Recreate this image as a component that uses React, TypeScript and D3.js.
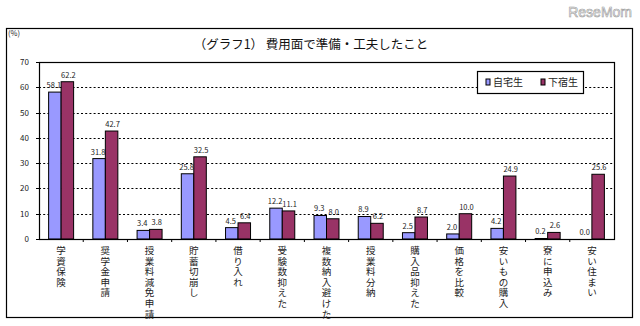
import React from "react";
import * as d3 from "d3";

const categories = [
  "学資保険",
  "奨学金申請",
  "授業料減免申請",
  "貯蓄切崩し",
  "借り入れ",
  "受験数抑えた",
  "複数納入避けた",
  "授業料分納",
  "購入品抑えた",
  "価格を比較",
  "安いもの購入",
  "寮に申込み",
  "安い住まい",
];
const seriesNames = ["自宅生", "下宿生"];
const jitaku = [58.1, 31.8, 3.4, 25.8, 4.5, 12.2, 9.3, 8.9, 2.5, 2.0, 4.2, 0.2, 0.0];
const geshuku = [62.2, 42.7, 3.8, 32.5, 6.4, 11.1, 8.0, 6.2, 8.7, 10.0, 24.9, 2.6, 25.6];
const yTicks = [0, 10, 20, 30, 40, 50, 60, 70];
const colors = ["#9999FF", "#993366"];
const title = "（グラフ1） 費用面で準備・工夫したこと";

const FONT = "'Noto Sans CJK JP', 'Noto Sans', sans-serif";

export default function App() {
  const W = 640, H = 326;
  const left = 39, right = 614, top = 62, bottom = 239;
  const x = d3.scaleBand<string>().domain(categories).range([left, right]);
  const sub = d3.scaleBand<string>().domain(seriesNames).range([0, x.bandwidth()]).paddingInner(0).paddingOuter(0.77);
  const y = d3.scaleLinear().domain([0, 70]).range([bottom, top]);
  const data = [jitaku, geshuku];
  const step = x.step();

  return (
    <svg width={W} height={H} style={{ position: "absolute", left: 0, top: 0, background: "#fff" }} fontFamily={FONT}>
      <rect x={0} y={0} width={W} height={H} fill="#fff" />
      <text x={632} y={17} textAnchor="end" fontSize={14} fill="#fff" stroke="#999" strokeWidth={0.6} fontFamily="'Liberation Sans', sans-serif">ReseMom</text>
      <rect x={6.5} y={28.5} width={626} height={289} fill="none" stroke="#000" strokeWidth={1.2} />
      <text x={8} y={36} fontSize={7.5} fill="#222">(%)</text>
      <text x={311} y={49} textAnchor="middle" fontSize={12.5} fill="#111">{title}</text>

      {/* gridlines */}
      {yTicks.filter((t) => t > 0 && t < 70).map((t) => (
        <line key={t} x1={left} x2={right} y1={Math.round(y(t)) + 0.5} y2={Math.round(y(t)) + 0.5} stroke="#000" strokeWidth={1.2} strokeDasharray="2,2.2" />
      ))}

      {/* y ticks and labels */}
      {yTicks.map((t) => (
        <g key={t}>
          <line x1={left - 3} x2={left} y1={Math.round(y(t)) + 0.5} y2={Math.round(y(t)) + 0.5} stroke="#000" />
          <text x={29} y={y(t) + 3} textAnchor="end" fontSize={8} fill="#222">{t}</text>
        </g>
      ))}

      {/* bars */}
      {categories.map((c, i) =>
        seriesNames.map((s, j) => {
          const v = data[j][i];
          const bx = (x(c) as number) + (sub(s) as number);
          const by = y(v);
          return (
            <g key={c + s}>
              <rect x={bx} y={by} width={sub.bandwidth()} height={Math.max(0, bottom - by)} fill={colors[j]} stroke="#000" strokeWidth={1} />
              <text x={bx + sub.bandwidth() / 2 + (j === 0 ? -1 : 1)} y={by - 4} textAnchor="middle" fontSize={7.5} fill="#222">{v.toFixed(1)}</text>
            </g>
          );
        })
      )}

      {/* plot frame */}
      <rect x={left + 0.5} y={top + 0.5} width={right - left} height={bottom - top} fill="none" stroke="#000" strokeWidth={1.2} />

      {/* x ticks */}
      {categories.slice(1).map((c) => (
        <line key={c} x1={(x(c) as number)} x2={(x(c) as number)} y1={bottom} y2={bottom + 3} stroke="#000" />
      ))}

      {/* category labels (stacked characters) */}
      {categories.map((c) => {
        const cx = (x(c) as number) + step / 2;
        return (
          <text key={c} fontSize={9.5} fill="#222" textAnchor="middle">
            {Array.from(c).map((ch, k) => (
              <tspan key={k} x={cx} y={254 + k * 10.6}>{ch}</tspan>
            ))}
          </text>
        );
      })}

      {/* legend */}
      <rect x={477.5} y={71.5} width={106} height={22} fill="#fff" stroke="#000" strokeWidth={1.2} />
      {seriesNames.map((s, j) => (
        <g key={s}>
          <rect x={486 + j * 55} y={79} width={4} height={6} fill={colors[j]} stroke="#000" strokeWidth={1} />
          <text x={493 + j * 55} y={86} fontSize={10} fill="#222">{s}</text>
        </g>
      ))}
    </svg>
  );
}
